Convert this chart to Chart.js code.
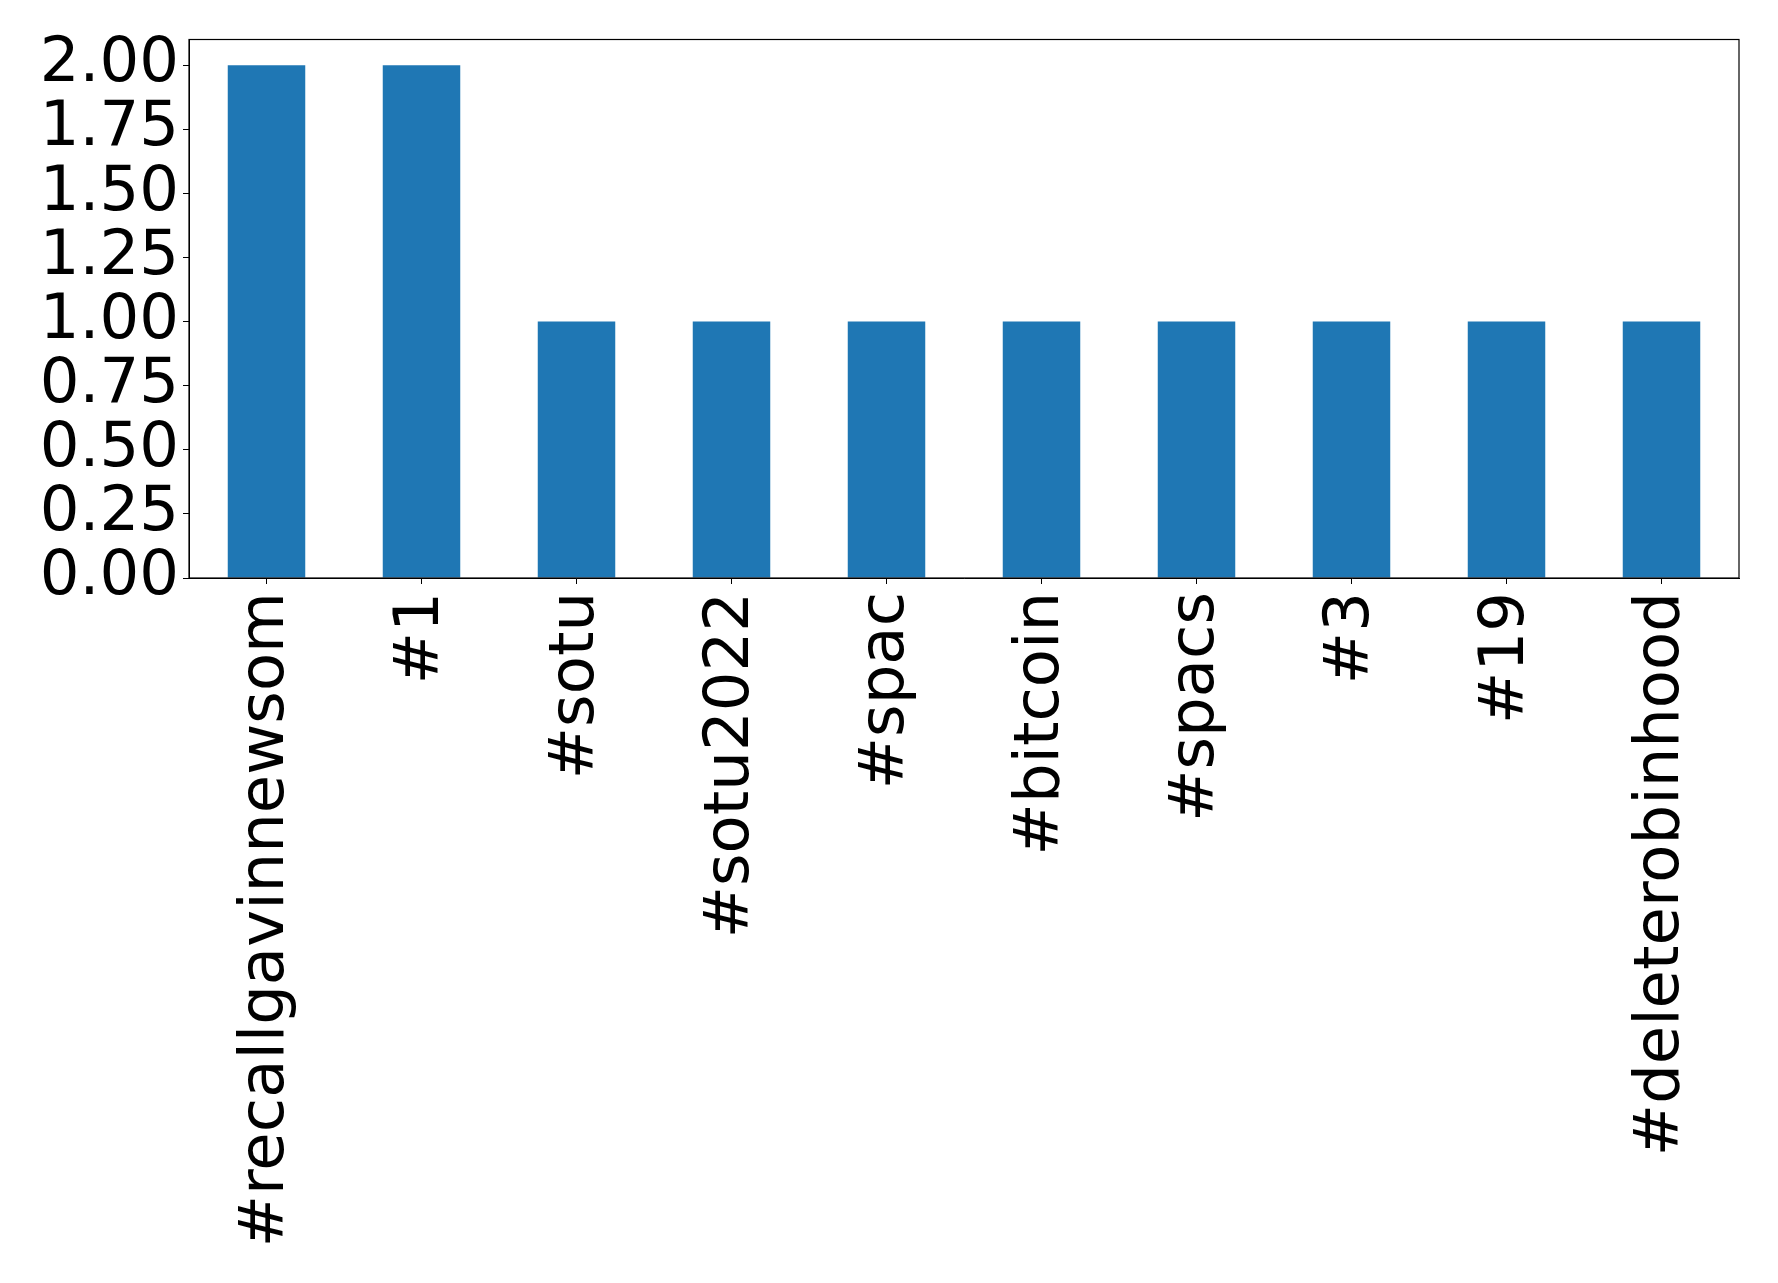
<!DOCTYPE html>
<html>
<head>
<meta charset="utf-8">
<script src="https://cdn.jsdelivr.net/npm/chart.js@4/dist/chart.umd.min.js"></script>
<style>
html,body{margin:0;padding:0;background:#fff;}
#wrap{width:1778px;height:1283px;position:relative;}
</style>
</head>
<body>
<div id="wrap"><canvas id="c" width="1778" height="1283"></canvas></div>
<script>
const categories = ["#recallgavinnewsom","#1","#sotu","#sotu2022","#spac","#bitcoin","#spacs","#3","#19","#deleterobinhood"];
const counts = [2,2,1,1,1,1,1,1,1,1];
const yTickStep = 0.25;
const yMax = 2.1;

const frame = {
  id:'frame',
  afterDraw(chart){
    const a = chart.chartArea, ctx = chart.ctx;
    ctx.save();
    ctx.strokeStyle = '#000';
    ctx.lineWidth = 1.2;
    ctx.strokeRect(a.left, a.top, a.right - a.left, a.bottom - a.top);
    ctx.restore();
  }
};

new Chart(document.getElementById('c'), {
  type:'bar',
  data:{labels:categories, datasets:[{data:counts, backgroundColor:'#1f77b4', borderWidth:0, categoryPercentage:0.5, barPercentage:1.0}]},
  options:{
    responsive:false, animation:false,
    layout:{padding:{top:0, right:39, left:0, bottom:0}},
    plugins:{legend:{display:false}, tooltip:{enabled:false}},
    scales:{
      x:{
        offset:true,
        grid:{display:true, offset:false, drawOnChartArea:false, drawTicks:true, tickLength:6, tickColor:'#000'},
        border:{display:true, color:'#000'},
        ticks:{color:'#000', font:{family:'DejaVu Sans', size:62.5}, maxRotation:90, minRotation:90, autoSkip:false, padding:8},
        afterFit(s){ s.height = 1283 - 578; }
      },
      y:{
        min:0, max:yMax,
        grid:{display:true, drawOnChartArea:false, drawTicks:true, tickLength:6, tickColor:'#000'},
        border:{display:true, color:'#000'},
        ticks:{stepSize:yTickStep, includeBounds:false, autoSkip:false, color:'#000', font:{family:'DejaVu Sans', size:62.5}, padding:4,
          callback:v=>Number(v).toFixed(2)},
        afterFit(s){ s.width = 189; s.paddingTop = 39.5; s.paddingBottom = 0; }
      }
    }
  },
  plugins:[frame]
});
</script>
</body>
</html>
